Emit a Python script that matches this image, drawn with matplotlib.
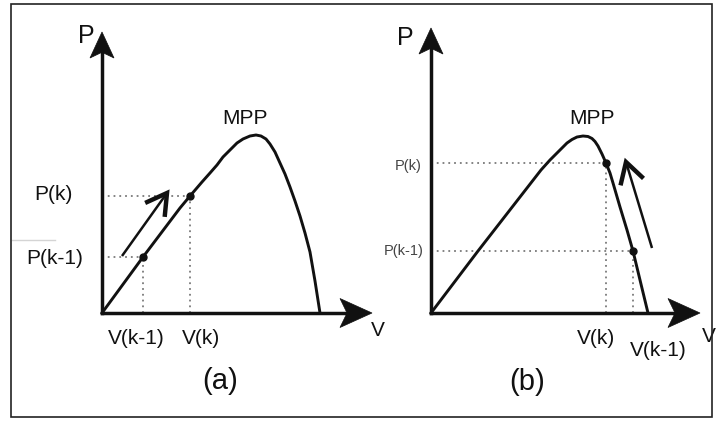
import numpy as np
import matplotlib.pyplot as plt
from matplotlib.patches import Polygon, Rectangle

plt.rcParams['font.family'] = ['Liberation Sans', 'DejaVu Sans']

# P-V curves, arbitrary units
curve_a_v = [0, 4.1, 7.8, 8.8, 10.0, 10.8, 11.5, 12.1, 12.8, 13.5, 14.1, 14.8, 15.4, 15.9, 16.4,
             16.8, 17.3, 17.8, 18.3, 18.8, 19.3, 19.8, 20.3, 20.8, 21.3, 21.8]
curve_a_p = [0, 5.6, 10.5, 11.7, 13.1, 14.0, 14.8, 15.6, 16.3, 17.0, 17.4, 17.7, 17.8, 17.7, 17.4,
             16.9, 16.1, 15.0, 13.9, 12.6, 11.2, 9.7, 8.0, 6.1, 3.2, 0]
curve_b_v = [0, 4.7, 8.2, 11.0, 11.9, 12.6, 13.1, 13.6, 14.1, 14.6, 15.2, 15.7, 16.1, 16.4, 16.7,
             17.1, 17.5, 17.9, 18.2, 18.9, 19.6, 20.2, 20.9, 21.7]
curve_b_p = [0, 6.2, 10.7, 14.3, 15.3, 16.0, 16.5, 17.0, 17.35, 17.6, 17.7, 17.65, 17.45, 17.15, 16.7,
             15.9, 15.0, 14.0, 13.0, 10.6, 8.3, 6.2, 3.3, 0]

# operating points (k-1, k)
pts_a_v = [4.1, 8.8]
pts_a_p = [5.6, 11.7]
pts_b_v = [20.2, 17.5]
pts_b_p = [6.2, 15.0]

v_labels = ['V(k-1)', 'V(k)']
p_labels = ['P(k-1)', 'P(k)']

# direction arrows: start, end
arrow_a = [(2.0, 5.7), (6.5, 12.0)]
arrow_b = [(22.1, 6.5), (19.5, 15.1)]

ink = '#111111'

fig = plt.figure(figsize=(7.21, 4.21), dpi=100)
fig.add_artist(Rectangle((11/721, 4/421), 701/721, 413/421, transform=fig.transFigure,
                         fill=False, lw=1.2, ec='#222222'))


def make_ax(ox, oy):
    # full figure axes, 10 px per unit, origin at pixel (ox, oy)
    ax = fig.add_axes([0, 0, 1, 1])
    ax.set_xlim(-ox/10, (721 - ox)/10)
    ax.set_ylim((oy - 421)/10, oy/10)
    ax.axis('off')
    ax.patch.set_alpha(0)
    return ax


def axis_arrow(ax, x1, y1, L, W):
    d = np.array([x1, y1], float)
    u = d/np.hypot(*d)
    n = np.array([-u[1], u[0]])
    base = d - u*L
    ax.plot([0, base[0] + u[0]*0.3*L], [0, base[1] + u[1]*0.3*L], color=ink, lw=2.5,
            solid_capstyle='projecting')
    poly = [d, base + n*W, base + u*0.22*L, base - n*W]
    ax.add_patch(Polygon(poly, closed=True, fc=ink, ec=ink, lw=0.5))


def move_arrow(ax, start, end, lw=1.8, head=2.4, ang=30):
    s = np.array(start)
    e = np.array(end)
    ax.plot([s[0], e[0]], [s[1], e[1]], color=ink, lw=lw, solid_capstyle='butt')
    back = (s - e)/np.hypot(*(s - e))
    arms = []
    for a in (ang, -ang):
        t = np.radians(a)
        r = np.array([back[0]*np.cos(t) - back[1]*np.sin(t), back[0]*np.sin(t) + back[1]*np.cos(t)])
        arms.append(e + r*head)
    ax.plot([arms[0][0], e[0], arms[1][0]], [arms[0][1], e[1], arms[1][1]], color=ink, lw=3.2,
            solid_joinstyle='miter', solid_capstyle='butt')


dots = dict(color='#7a7a7a', lw=1.3, ls=(0, (1, 2.2)))

# ---- panel (a)
ax = make_ax(102, 313)
for v, p in zip(pts_a_v, pts_a_p):
    ax.plot([0, v], [p, p], **dots)
    ax.plot([v, v], [0, p], **dots)
axis_arrow(ax, 0, 28.1, 2.6, 1.2)
axis_arrow(ax, 27.0, 0, 3.2, 1.45)
ax.plot(curve_a_v, curve_a_p, color=ink, lw=2.1, solid_joinstyle='round')
ax.plot(pts_a_v, pts_a_p, 'o', color=ink, ms=5)
move_arrow(ax, *arrow_a)
ax.plot([-9.0, -4.7], [7.3, 7.3], color='#d4d4d4', lw=1)
ax.text(-1.6, 27.7, 'P', fontsize=18, color=ink, ha='center', va='center')
ax.text(27.6, -1.7, 'V', fontsize=15, color=ink, ha='center', va='center')
ax.text(14.3, 19.4, 'MPP', fontsize=15, color=ink, ha='center', va='center')
ax.text(-4.9, 11.8, p_labels[1], fontsize=15, color=ink, ha='center', va='center')
ax.text(-4.7, 5.5, p_labels[0], fontsize=15, color=ink, ha='center', va='center')
ax.text(3.4, -2.6, v_labels[0], fontsize=15, color=ink, ha='center', va='center')
ax.text(9.9, -2.6, v_labels[1], fontsize=15, color=ink, ha='center', va='center')
ax.text(11.8, -6.8, '(a)', fontsize=21, color=ink, ha='center', va='center')

# ---- panel (b)
ax = make_ax(431, 313)
for v, p in zip(pts_b_v, pts_b_p):
    ax.plot([0, v], [p, p], **dots)
    ax.plot([v, v], [0, p], **dots)
axis_arrow(ax, 0, 28.5, 2.6, 1.2)
axis_arrow(ax, 26.9, 0, 3.2, 1.45)
ax.plot(curve_b_v, curve_b_p, color=ink, lw=2.1, solid_joinstyle='round')
ax.plot(pts_b_v, pts_b_p, 'o', color=ink, ms=5)
move_arrow(ax, *arrow_b)
ax.text(-2.6, 27.5, 'P', fontsize=18, color=ink, ha='center', va='center')
ax.text(27.8, -2.4, 'V', fontsize=15, color=ink, ha='center', va='center')
ax.text(16.1, 19.4, 'MPP', fontsize=15, color=ink, ha='center', va='center')
ax.text(-2.3, 14.7, p_labels[1], fontsize=10.5, color='#444444', ha='center', va='center')
ax.text(-2.7, 6.2, p_labels[0], fontsize=10.5, color='#444444', ha='center', va='center')
ax.text(16.5, -2.6, v_labels[1], fontsize=15, color=ink, ha='center', va='center')
ax.text(22.7, -3.7, v_labels[0], fontsize=15, color=ink, ha='center', va='center')
ax.text(9.6, -6.9, '(b)', fontsize=21, color=ink, ha='center', va='center')

fig.savefig('out.png', dpi=100)
